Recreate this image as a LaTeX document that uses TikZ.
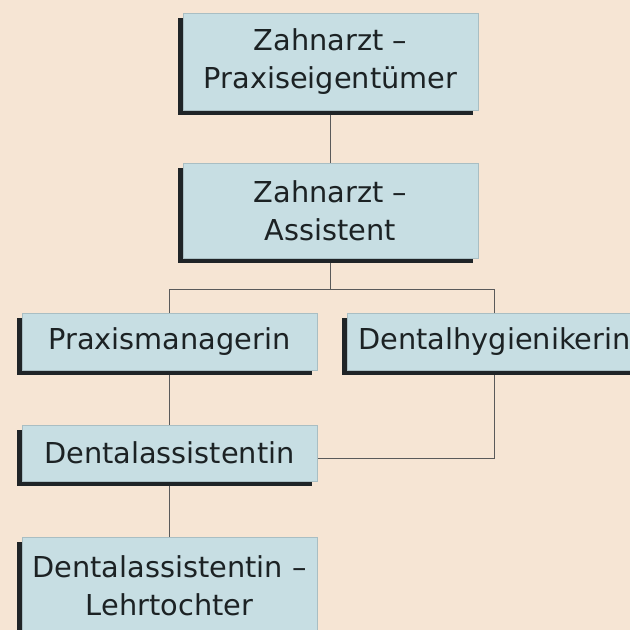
\documentclass[tikz,border=0pt]{standalone}
\usepackage{fontspec}
\setmainfont{DejaVu Sans}
\usetikzlibrary{shadows}
\definecolor{bgbeige}{HTML}{F6E5D4}
\definecolor{boxblue}{HTML}{C7DEE3}
\definecolor{boxedge}{HTML}{A9BEC3}
\definecolor{shadowc}{HTML}{1F2427}
\definecolor{linec}{HTML}{5A5A5A}
\definecolor{textc}{HTML}{1C2224}
\pgfdeclarelayer{back}
\pgfdeclarelayer{lines}
\pgfsetlayers{back,lines,main}
\begin{document}
\begin{tikzpicture}[x=1pt,y=-1pt,
  orgbox/.style={rectangle, fill=boxblue, draw=boxedge, line width=0.8pt,
    minimum width=295pt, inner sep=0pt, align=center, text=textc,
    font=\fontsize{28.8}{38}\selectfont,
    general shadow={shadow xshift=-5pt, shadow yshift=-5pt, fill=shadowc}},
  conn/.style={draw=linec, line width=1pt}]
\useasboundingbox (0,0) rectangle (630,630);
\begin{pgfonlayer}{back}
\fill[bgbeige] (0,0) rectangle (630,630);
\end{pgfonlayer}
\clip (0,0) rectangle (630,630);
\node[orgbox, minimum height=97pt] (zp) at (330.5,61.5) {Zahnarzt –\\Praxiseigentümer};
\node[orgbox, minimum height=95pt] (za) at (330.5,210.5) {Zahnarzt –\\Assistent};
\node[orgbox, minimum height=57pt] (pm) at (169.5,341.5) {Praxismanagerin};
\node[orgbox, minimum height=57pt] (dh) at (494.5,341.5) {Dentalhygienikerin};
\node[orgbox, minimum height=56pt] (da) at (169.5,453) {Dentalassistentin};
\node[orgbox, minimum height=97pt] (dl) at (169.5,585.5) {Dentalassistentin –\\Lehrtochter};
\begin{pgfonlayer}{lines}
\coordinate (j) at (330.5,289);
\draw[conn] (zp.south) -- (za.north);
\draw[conn] (za.south) -- (j) -| (pm.north);
\draw[conn] (j) -| (dh.north);
\draw[conn] (pm.south) -- (da.north);
\draw[conn] (da.south) -- (dl.north);
\draw[conn] ([yshift=-5pt]da.east) -| (dh.south);
\end{pgfonlayer}
\end{tikzpicture}
\end{document}
